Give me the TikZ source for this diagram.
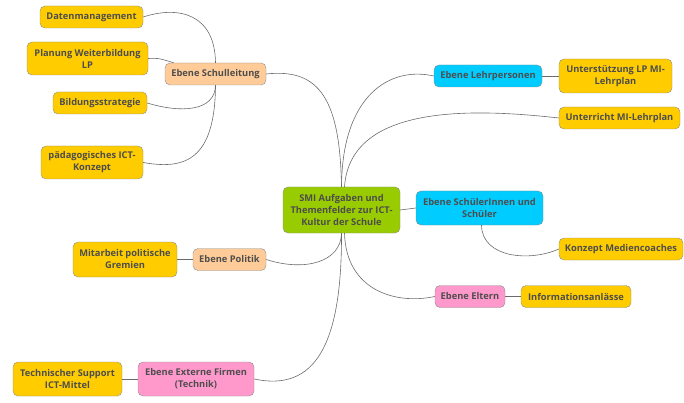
\documentclass[tikz,border=0pt]{standalone}
\usepackage{fontspec}
\setmainfont{Open Sans}
\usepackage{xcolor}
\usepackage{tikz}
\usetikzlibrary{positioning}

\definecolor{gelb}{HTML}{FFCC00}
\definecolor{gruen}{HTML}{99CC00}
\definecolor{blau}{HTML}{00CCFF}
\definecolor{pfirsich}{HTML}{FFCC99}
\definecolor{rosa}{HTML}{FF99CC}
\definecolor{schrift}{HTML}{4D4D4D}

\tikzset{
  box/.style={draw=gray!90, rounded corners=5pt, align=center, inner sep=1pt,
    font=\fontsize{9.3}{12}\selectfont\bfseries, text=schrift, minimum height=22pt},
  thema/.style={box, fill=gruen, minimum width=117pt, minimum height=46pt},
  ebene/.style={box},
  blatt/.style={box, fill=gelb},
  ast/.style={draw=gray!85!black, line width=0.6pt},
}

\begin{document}
\begin{tikzpicture}[x=1pt, y=-1pt]
    \useasboundingbox (0,0) rectangle (684,403);

    \node[thema] (smi) at (341.5,210) {SMI Aufgaben und\\Themenfelder zur ICT-\\Kultur der Schule};

    % Schulleitung
    \node[ebene, fill=pfirsich, minimum width=101pt] (sl) at (215.5,74) {Ebene Schulleitung};
    \node[blatt, minimum width=103pt] (dm) at (91.5,17) {Datenmanagement};
    \node[blatt, minimum width=121pt, minimum height=33pt] (pw) at (87.5,58.5) {Planung Weiterbildung\\LP};
    \node[blatt, minimum width=94pt] (bs) at (100,103) {Bildungsstrategie};
    \node[blatt, minimum width=102pt, minimum height=33pt] (pk) at (92,162.5) {pädagogisches ICT-\\Konzept};

    % Lehrpersonen
    \node[ebene, fill=blau, minimum width=108pt] (lp) at (488,76) {Ebene Lehrpersonen};
    \node[blatt, minimum width=113pt, minimum height=34pt] (ul) at (615.5,76) {Unterstützung LP MI-\\Lehrplan};
    \node[blatt, minimum width=121pt] (um) at (619.5,118) {Unterricht MI-Lehrplan};

    % Schueler
    \node[ebene, fill=blau, minimum width=127pt, minimum height=34pt] (sch) at (479.5,208) {Ebene SchülerInnen und\\Schüler};
    \node[blatt, minimum width=124pt] (mc) at (621,249) {Konzept Mediencoaches};

    % Eltern
    \node[ebene, fill=rosa, minimum width=70pt] (el) at (470,296.5) {Ebene Eltern};
    \node[blatt, minimum width=110pt] (ia) at (576,296.5) {Informationsanlässe};

    % Politik
    \node[ebene, fill=pfirsich, minimum width=73pt] (po) at (229.5,259.5) {Ebene Politik};
    \node[blatt, minimum width=104pt, minimum height=35pt] (mg) at (125,259.5) {Mitarbeit politische\\Gremien};

    % Externe Firmen
    \node[ebene, fill=rosa, minimum width=116pt, minimum height=34pt] (ef) at (196,379) {Ebene Externe Firmen\\(Technik)};
    \node[blatt, minimum width=109pt, minimum height=34pt] (ts) at (67.5,379) {Technischer Support\\ICT-Mittel};

    % Verbindungen
    \draw[ast] (sl.east) .. controls (320,68) and (340,100) .. (smi.north);
    \draw[ast] (lp.west) .. controls (390,66) and (342,95) .. (smi.north);
    \draw[ast] (um.west) .. controls (470,108) and (350,105) .. ([xshift=3pt]smi.north);
    \draw[ast] (smi.east) -- (sch.west);
    \draw[ast] (po.east) .. controls (305,272) and (341,262) .. (smi.south);
    \draw[ast] (ef.east) .. controls (315,392) and (342,345) .. (smi.south);
    \draw[ast] (el.west) .. controls (395,305) and (346,290) .. ([xshift=3pt]smi.south);

    \draw[ast] (dm.east) .. controls (180,5) and (215,15) .. (sl.north);
    \draw[ast] (pw.east) .. controls (158,58) .. (sl.165);
    \draw[ast] (bs.east) .. controls (180,113) and (215,112) .. (sl.south);
    \draw[ast] (pk.east) .. controls (185,170) and (215,160) .. (sl.south);

    \draw[ast] (lp.east) -- (ul.west);
    \draw[ast] ([xshift=2pt]sch.south) .. controls (482,258) and (530,262) .. (mc.west);
    \draw[ast] (el.east) -- (ia.west);
    \draw[ast] (po.west) -- (mg.east);
    \draw[ast] (ef.west) -- (ts.east);
\end{tikzpicture}
\end{document}
